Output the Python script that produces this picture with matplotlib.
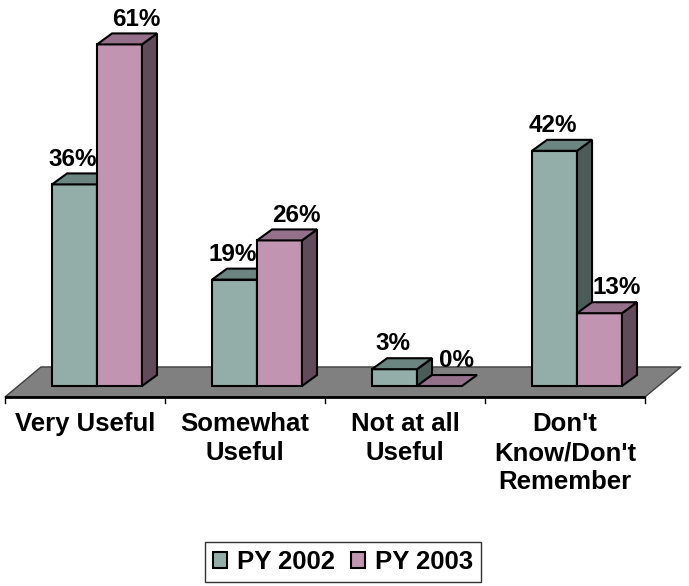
import numpy as np
import matplotlib.pyplot as plt
from matplotlib.patches import Polygon, Patch

plt.rcParams['font.family'] = ['Liberation Sans', 'DejaVu Sans']
plt.rcParams['font.weight'] = 'bold'

# survey answers, percent of respondents
categories = ["Very Useful", "Somewhat\nUseful", "Not at all\nUseful", "Don't\nKnow/Don't\nRemember"]
py2002 = [36, 19, 3, 42]
py2003 = [61, 26, 0, 13]
series_names = ["PY 2002", "PY 2003"]

# front / top / side shades for each series
teal = ["#93ADA8", "#6C8580", "#4B5B58"]
pink = ["#C194B2", "#94708A", "#614A5A"]

# layout: x in category units, y in percent
bar_w = 0.281
teal_off = 0.294
dx, dy = 0.094, 1.96          # depth of each bar
fdx, fdy = 0.225, 5.36        # depth of the floor
floor_front = -1.96

fig = plt.figure(figsize=(6.89, 5.86), dpi=100)
ax = fig.add_axes([0, 0, 1, 1])
ax.set_xlim(-0.03125, 4.275)
ax.set_ylim(-35.714, 68.929)
ax.axis('off')


def bar3d(x0, h, shades):
    ec = dict(edgecolor='black', linewidth=1.5, joinstyle='miter')
    front = [(x0, 0), (x0 + bar_w, 0), (x0 + bar_w, h), (x0, h)]
    top = [(x0, h), (x0 + bar_w, h), (x0 + bar_w + dx, h + dy), (x0 + dx, h + dy)]
    side = [(x0 + bar_w, 0), (x0 + bar_w + dx, dy), (x0 + bar_w + dx, h + dy), (x0 + bar_w, h)]
    if h > 0:
        ax.add_patch(Polygon(front, closed=True, facecolor=shades[0], **ec))
        ax.add_patch(Polygon(side, closed=True, facecolor=shades[2], **ec))
    ax.add_patch(Polygon(top, closed=True, facecolor=shades[1], **ec))


# grey floor
n = len(categories)
floor = [(0, floor_front), (n, floor_front), (n + fdx, floor_front + fdy), (fdx, floor_front + fdy)]
ax.add_patch(Polygon(floor, closed=True, facecolor='#808080', edgecolor='#404040', linewidth=1))
ax.plot([0, n], [floor_front, floor_front], color='black', lw=2, solid_capstyle='butt')
for t in range(n + 1):
    ax.plot([t, t], [floor_front, floor_front - 1.1], color='black', lw=1)

for i in range(n):
    x_teal = i + teal_off
    x_pink = x_teal + bar_w
    bar3d(x_teal, py2002[i], teal)
    bar3d(x_pink, py2003[i], pink)
    ax.text(x_teal + bar_w / 2 - 0.012, py2002[i] + dy + 0.5, f"{py2002[i]}%",
            ha='center', va='bottom', fontsize=17.5, fontweight='bold')
    ax.text(x_pink + bar_w / 2 + 0.106, py2003[i] + dy + 0.5, f"{py2003[i]}%",
            ha='center', va='bottom', fontsize=17.5, fontweight='bold')
    ax.text(i + 0.5, -4.6, categories[i], ha='center', va='top',
            fontsize=18.5, fontweight='bold', linespacing=1.28)

handles = [Patch(facecolor=teal[0], edgecolor='black', linewidth=1.5),
           Patch(facecolor=pink[0], edgecolor='black', linewidth=1.5)]
leg = fig.legend(handles, series_names, loc='center', bbox_to_anchor=(0.498, 0.041),
                 ncol=2, frameon=True, fancybox=False, edgecolor='black',
                 prop={'size': 18.5, 'weight': 'bold'}, handlelength=0.55, handleheight=0.55,
                 handletextpad=0.4, columnspacing=0.6, borderpad=0.3)
leg.get_frame().set_linewidth(1)

fig.savefig("out.png", dpi=100)
